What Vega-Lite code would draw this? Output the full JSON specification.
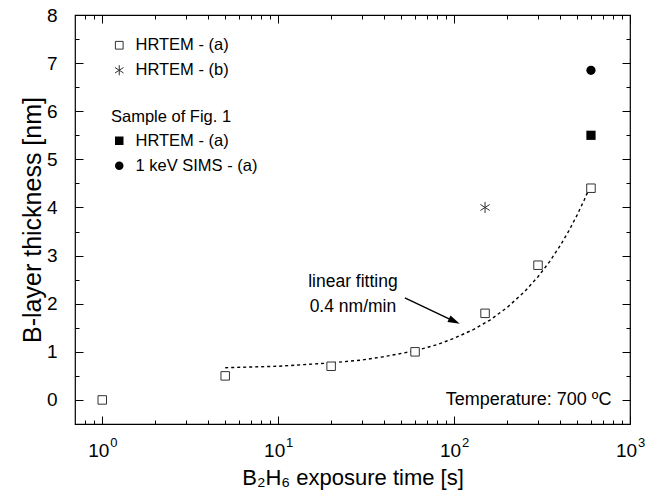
{
  "$schema": "https://vega.github.io/schema/vega-lite/v6.json",
  "width": 555,
  "height": 409,
  "autosize": "none",
  "padding": {"left": 75, "top": 15, "right": 25, "bottom": 69},
  "background": "white",
  "config": {
    "font": "Liberation Sans",
    "view": {"stroke": "#000", "strokeWidth": 1.2},
    "axis": {
      "domain": false, "grid": false, "tickColor": "#000", "tickWidth": 1,
      "labelColor": "#000", "titleColor": "#000",
      "labelFont": "Liberation Sans", "titleFont": "Liberation Sans",
      "labelFontSize": 19, "titleFontSize": 23, "titleFontWeight": "normal",
      "labelOverlap": false, "labelFlush": false
    },
    "legend": {
      "labelFont": "Liberation Sans", "titleFont": "Liberation Sans",
      "labelFontSize": 16.5, "titleFontSize": 16.5, "titleFontWeight": "normal",
      "labelColor": "#000", "titleColor": "#000", "padding": 0, "rowPadding": 8,
      "labelOffset": 8
    }
  },
  "datasets": {
    "open": [
      {"t": 1, "thickness": 0.0, "series": "HRTEM - (a)"},
      {"t": 5, "thickness": 0.5, "series": "HRTEM - (a)"},
      {"t": 20, "thickness": 0.7, "series": "HRTEM - (a)"},
      {"t": 60, "thickness": 1.0, "series": "HRTEM - (a)"},
      {"t": 150, "thickness": 1.8, "series": "HRTEM - (a)"},
      {"t": 300, "thickness": 2.8, "series": "HRTEM - (a)"},
      {"t": 600, "thickness": 4.4, "series": "HRTEM - (a)"},
      {"t": 150, "thickness": 4.0, "series": "HRTEM - (b)"}
    ],
    "fig1": [
      {"t": 600, "thickness": 5.5, "series": "HRTEM - (a)"},
      {"t": 600, "thickness": 6.85, "series": "1 keV SIMS - (a)"}
    ],
    "fit": [
      {"t": 5, "thickness": 0.67}, {"t": 10, "thickness": 0.70}, {"t": 20, "thickness": 0.77},
      {"t": 30, "thickness": 0.83}, {"t": 40, "thickness": 0.90}, {"t": 60, "thickness": 1.02},
      {"t": 80, "thickness": 1.15}, {"t": 100, "thickness": 1.28}, {"t": 130, "thickness": 1.47},
      {"t": 160, "thickness": 1.66}, {"t": 200, "thickness": 1.92}, {"t": 250, "thickness": 2.24},
      {"t": 300, "thickness": 2.56}, {"t": 350, "thickness": 2.88}, {"t": 400, "thickness": 3.20},
      {"t": 450, "thickness": 3.52}, {"t": 500, "thickness": 3.84}, {"t": 550, "thickness": 4.16},
      {"t": 600, "thickness": 4.48}
    ],
    "arrow": [
      {"t": 52.5, "thickness": 2.12, "t2": 100.4, "thickness2": 1.634}
    ],
    "arrowhead": [
      {"t": 100.4, "thickness": 1.634}
    ],
    "notes": [
      {"t": 26.6, "thickness": 2.46, "label": "linear fitting"},
      {"t": 26.6, "thickness": 1.94, "label": "0.4 nm/min"}
    ],
    "temp": [
      {"t": 784, "thickness": 0, "label": "Temperature: 700 ºC"}
    ]
  },
  "layer": [
    {
      "data": {"name": "fit"},
      "mark": {"type": "line", "color": "#000", "strokeWidth": 1.4, "strokeDash": [3, 3]},
      "encoding": {
        "x": {
          "field": "t", "type": "quantitative",
          "scale": {"type": "log", "domain": [0.7, 1000], "nice": false},
          "axis": {
            "orient": "top", "title": null, "labels": false,
            "values": [0.8, 0.9, 1, 2, 3, 4, 5, 6, 7, 8, 9, 10, 20, 30, 40, 50, 60, 70, 80, 90, 100, 200, 300, 400, 500, 600, 700, 800, 900, 1000],
            "tickSize": {"condition": {"test": "indexof([1, 10, 100, 1000], datum.value) >= 0", "value": -8}, "value": -4}
          }
        },
        "y": {
          "field": "thickness", "type": "quantitative",
          "scale": {"domain": [-0.5, 8], "nice": false, "zero": false},
          "axis": {
            "orient": "right", "title": null, "labels": false,
            "values": [0, 0.5, 1, 1.5, 2, 2.5, 3, 3.5, 4, 4.5, 5, 5.5, 6, 6.5, 7, 7.5, 8],
            "tickSize": {"condition": {"test": "datum.value % 1 == 0", "value": -8}, "value": -4}
          }
        }
      }
    },
    {
      "data": {"name": "open"},
      "transform": [{"filter": "datum.series == 'HRTEM - (a)'"}],
      "mark": {"type": "point", "shape": "square", "filled": true, "color": "white", "opacity": 1, "size": 72},
      "encoding": {
        "x": {"field": "t", "type": "quantitative", "scale": {"type": "log", "domain": [0.7, 1000], "nice": false}, "axis": null},
        "y": {"field": "thickness", "type": "quantitative", "scale": {"domain": [-0.5, 8], "nice": false, "zero": false}, "axis": null}
      }
    },
    {
      "data": {"name": "open"},
      "mark": {"type": "point", "filled": false, "color": "#333", "strokeWidth": 1, "opacity": 1, "size": 72},
      "encoding": {
        "x": {
          "field": "t", "type": "quantitative",
          "scale": {"type": "log", "domain": [0.7, 1000], "nice": false},
          "axis": {
            "orient": "bottom",
            "title": "B₂H₆ exposure time [s]",
            "titleFontSize": 22,
            "values": [0.8, 0.9, 1, 2, 3, 4, 5, 6, 7, 8, 9, 10, 20, 30, 40, 50, 60, 70, 80, 90, 100, 200, 300, 400, 500, 600, 700, 800, 900, 1000],
            "labelExpr": "indexof([1, 10, 100, 1000], datum.value) >= 0 ? '10' : ''",
            "labelOffset": -4,
            "tickSize": {"condition": {"test": "indexof([1, 10, 100, 1000], datum.value) >= 0", "value": -8}, "value": -4},
            "labelPadding": 25,
            "titlePadding": 3
          }
        },
        "y": {
          "field": "thickness", "type": "quantitative",
          "scale": {"domain": [-0.5, 8], "nice": false, "zero": false},
          "axis": {
            "orient": "left",
            "title": "B-layer thickness [nm]",
            "titleFontSize": 25,
            "values": [0, 0.5, 1, 1.5, 2, 2.5, 3, 3.5, 4, 4.5, 5, 5.5, 6, 6.5, 7, 7.5, 8],
            "labelExpr": "datum.value % 1 == 0 ? format(datum.value, 'd') : ''",
            "tickSize": {"condition": {"test": "datum.value % 1 == 0", "value": -8}, "value": -4},
            "labelPadding": 26,
            "titlePadding": 1
          }
        },
        "shape": {
          "field": "series", "type": "nominal",
          "scale": {"domain": ["HRTEM - (a)", "HRTEM - (b)"], "range": ["square", "M0,-1.3L0,1.3M-1.1,-0.7L1.1,0.7M-1.1,0.7L1.1,-0.7"]},
          "legend": {"title": null, "orient": "none", "legendX": 36, "legendY": 22, "symbolSize": 60, "symbolStrokeWidth": 1}
        }
      }
    },
    {
      "data": {"name": "fig1"},
      "mark": {"type": "point", "filled": true, "color": "#000", "opacity": 1, "size": 85},
      "encoding": {
        "x": {"field": "t", "type": "quantitative", "scale": {"type": "log", "domain": [0.7, 1000], "nice": false}, "axis": null},
        "y": {"field": "thickness", "type": "quantitative", "scale": {"domain": [-0.5, 8], "nice": false, "zero": false}, "axis": null},
        "shape": {
          "field": "series", "type": "nominal",
          "scale": {"domain": ["HRTEM - (a)", "1 keV SIMS - (a)"], "range": ["square", "circle"]},
          "legend": {
            "title": "Sample of Fig. 1", "orient": "none", "legendX": 36, "legendY": 94, "titlePadding": 7,
            "symbolSize": 72, "symbolFillColor": "#000", "symbolStrokeColor": "#000",
            "encode": {"title": {"update": {"dx": {"value": 5}}}}
          }
        }
      }
    },
    {
      "data": {"name": "arrow"},
      "mark": {"type": "rule", "color": "#000", "strokeWidth": 1.4},
      "encoding": {
        "x": {"field": "t", "type": "quantitative", "scale": {"type": "log", "domain": [0.7, 1000], "nice": false}, "axis": null},
        "y": {"field": "thickness", "type": "quantitative", "scale": {"domain": [-0.5, 8], "nice": false, "zero": false}, "axis": null},
        "x2": {"field": "t2"},
        "y2": {"field": "thickness2"}
      }
    },
    {
      "data": {"name": "arrowhead"},
      "mark": {"type": "point", "shape": "M1,0L-1,-0.6L-1,0.6Z", "filled": true, "color": "#000", "opacity": 1, "size": 144, "angle": 25},
      "encoding": {
        "x": {
          "field": "t", "type": "quantitative", "scale": {"type": "log", "domain": [0.7, 1000], "nice": false},
          "axis": {
            "orient": "bottom", "title": null, "ticks": false, "tickSize": 0,
            "values": [1, 10, 100, 1000],
            "labelExpr": "datum.value == 1 ? '0' : datum.value == 10 ? '1' : datum.value == 100 ? '2' : '3'",
            "labelFontSize": 13, "labelOffset": 11, "labelPadding": 12.5
          }
        },
        "y": {"field": "thickness", "type": "quantitative", "scale": {"domain": [-0.5, 8], "nice": false, "zero": false}, "axis": null}
      }
    },
    {
      "data": {"name": "notes"},
      "mark": {"type": "text", "align": "center", "baseline": "middle", "fontSize": 17.5, "color": "#000"},
      "encoding": {
        "x": {"field": "t", "type": "quantitative", "scale": {"type": "log", "domain": [0.7, 1000], "nice": false}, "axis": null},
        "y": {"field": "thickness", "type": "quantitative", "scale": {"domain": [-0.5, 8], "nice": false, "zero": false}, "axis": null},
        "text": {"field": "label"}
      }
    },
    {
      "data": {"name": "temp"},
      "mark": {"type": "text", "align": "right", "baseline": "middle", "fontSize": 18, "color": "#000"},
      "encoding": {
        "x": {"field": "t", "type": "quantitative", "scale": {"type": "log", "domain": [0.7, 1000], "nice": false}, "axis": null},
        "y": {"field": "thickness", "type": "quantitative", "scale": {"domain": [-0.5, 8], "nice": false, "zero": false}, "axis": null},
        "text": {"field": "label"}
      }
    }
  ],
  "resolve": {
    "scale": {"shape": "independent"},
    "axis": {"x": "independent", "y": "independent"},
    "legend": {"shape": "independent"}
  }
}
